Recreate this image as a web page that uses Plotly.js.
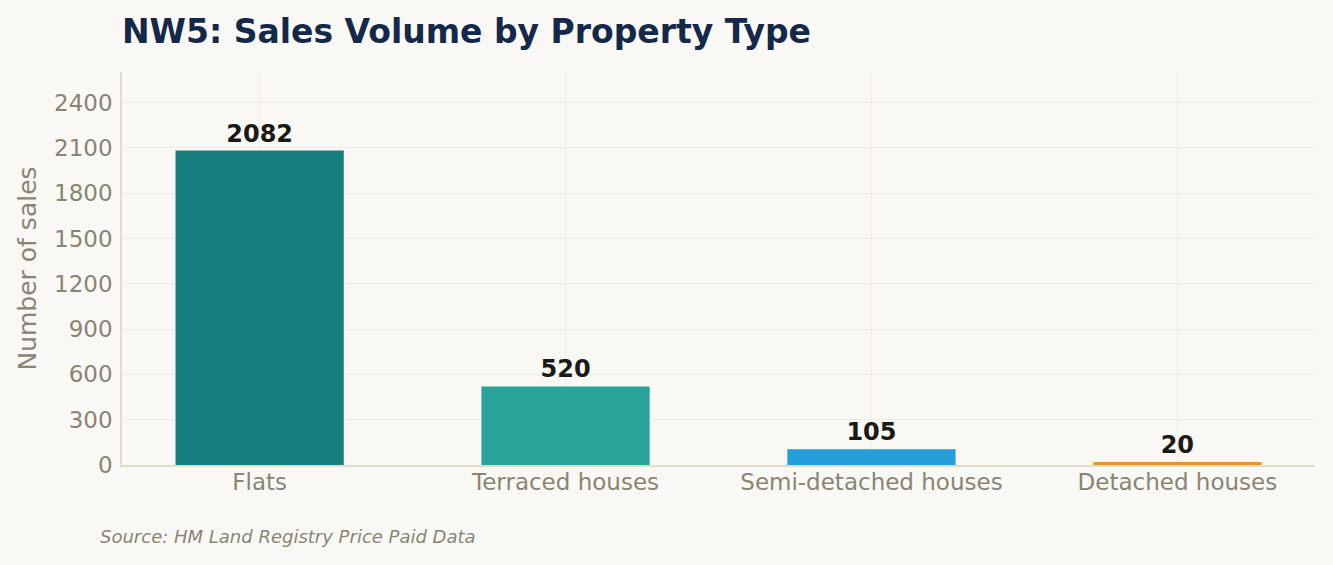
<!DOCTYPE html>
<html>
<head>
<meta charset="utf-8">
<script src="https://cdn.plot.ly/plotly-3.0.1.min.js"></script>
<style>
  html, body { margin: 0; padding: 0; background: #f9f8f4; }
  #chart { width: 1333px; height: 565px; }
</style>
</head>
<body>
<div id="chart"></div>
<script>
const propertyTypes = ['Flats', 'Terraced houses', 'Semi-detached houses', 'Detached houses']
const salesCounts = [2082, 520, 105, 20]
const barColours = ['#17807e', '#2aa39a', '#239ed9', '#e0962c']
const yTicks = [0, 300, 600, 900, 1200, 1500, 1800, 2100, 2400]

const font = 'DejaVu Sans, sans-serif'

const trace = {
    x: propertyTypes,
    y: salesCounts,
    type: 'bar',
    marker: { color: barColours },
    text: salesCounts.map(String),
    textposition: 'outside',
    cliponaxis: false,
    textfont: { family: font, size: 24, color: '#1c1a16', weight: 'bold' },
    hoverinfo: 'x+y',
}

const layout = {
    width: 1333,
    height: 565,
    paper_bgcolor: '#f9f8f4',
    plot_bgcolor: '#f9f8f4',
    margin: { l: 122, r: 18, t: 72, b: 100 },
    bargap: 0.45,
    showlegend: false,
    font: { family: font, color: '#8a8474' },
    title: {
        text: '<b>NW5: Sales Volume by Property Type</b>',
        font: { family: font, size: 33, color: '#14294a' },
        x: 0, xref: 'paper', xanchor: 'left',
        y: 1 - 31 / 565, yref: 'container', yanchor: 'middle',
    },
    xaxis: {
        range: [-0.45, 3.45],
        showgrid: true,
        gridcolor: '#efece5',
        showline: true,
        linecolor: '#e2dccd',
        linewidth: 1.5,
        tickfont: { family: font, size: 23, color: '#8a8474' },
        ticks: '',
        ticklabelstandoff: -4,
    },
    yaxis: {
        range: [0, salesCounts[0] * 1.25],
        tickvals: yTicks,
        showgrid: true,
        gridcolor: '#efece5',
        zeroline: false,
        showline: true,
        linecolor: '#e2dccd',
        linewidth: 1.5,
        ticks: '',
        ticklabelstandoff: 3,
        tickfont: { family: font, size: 23, color: '#8a8474' },
        title: { text: 'Number of sales', font: { family: font, size: 25, color: '#8a8474' }, standoff: 10 },
    },
    annotations: [{
        text: '<i>Source: HM Land Registry Price Paid Data</i>',
        xref: 'paper', yref: 'paper',
        x: -0.02, y: -0.183,
        xanchor: 'left', yanchor: 'middle',
        showarrow: false,
        font: { family: font, size: 18, color: '#8a8474' },
    }],
}

Plotly.newPlot('chart', [trace], layout, { displayModeBar: false })
</script>
</body>
</html>
